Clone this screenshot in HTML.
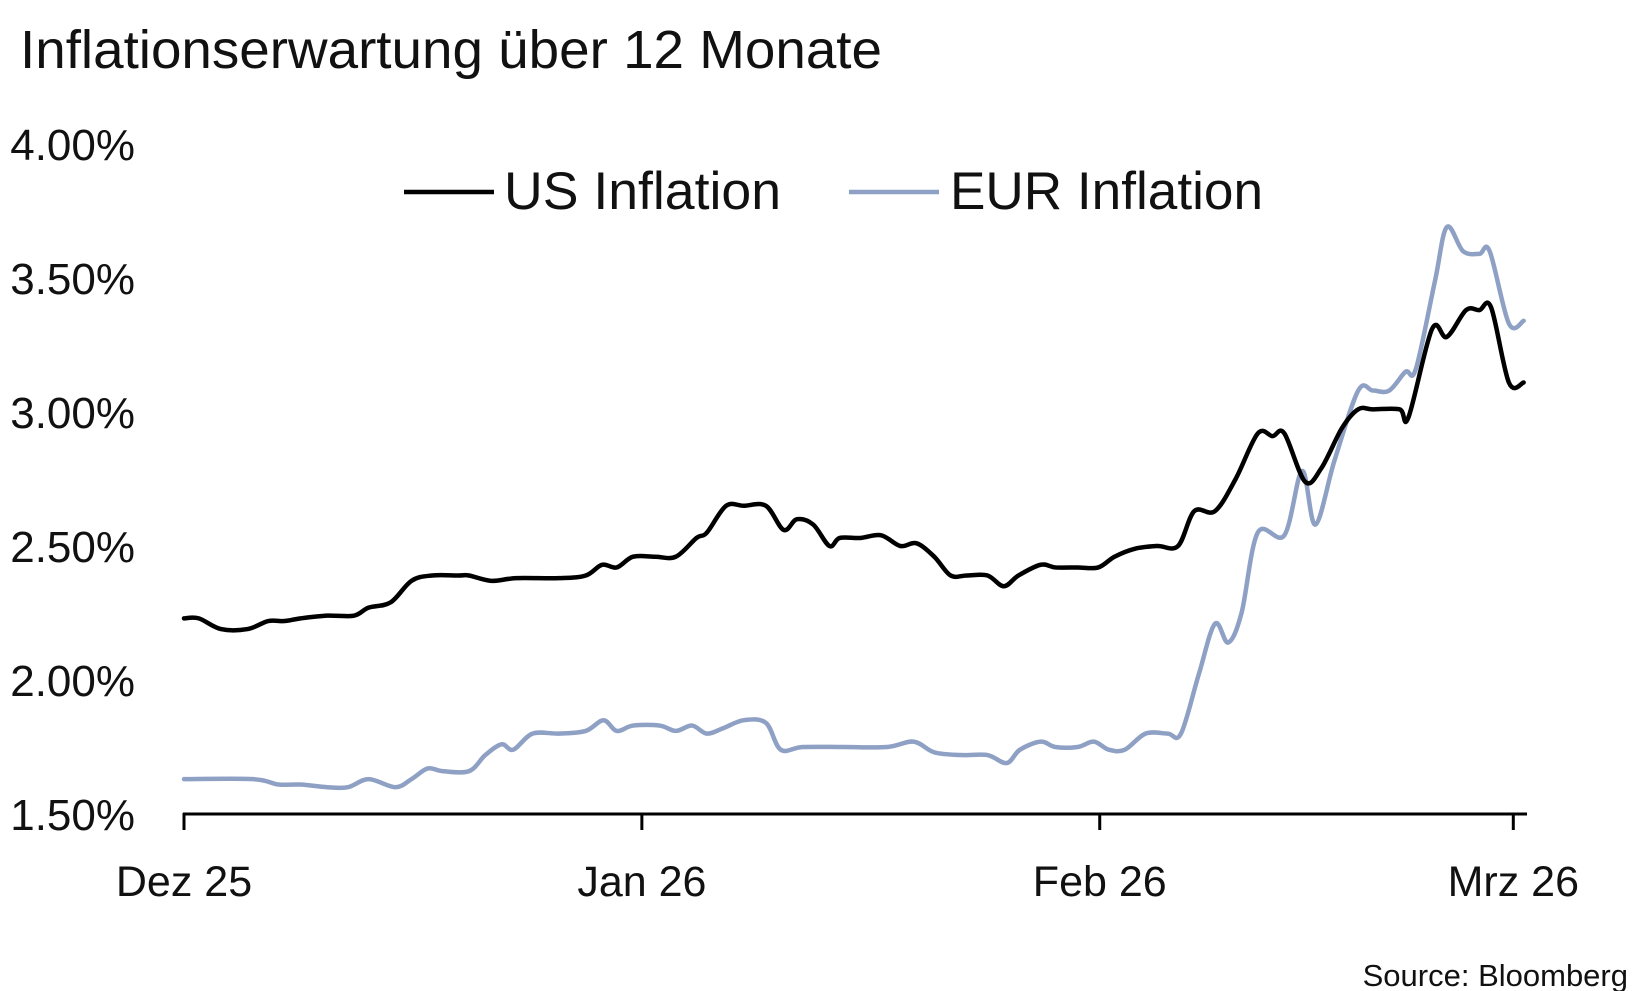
<!DOCTYPE html>
<html><head><meta charset="utf-8">
<style>
body{margin:0;background:#fff;}
svg{display:block;font-family:"Liberation Sans",sans-serif;}
</style></head>
<body>
<svg id="chart" width="1651" height="991" viewBox="0 0 1651 991">
<text x="20" y="68" font-size="54" fill="#111" textLength="862" lengthAdjust="spacingAndGlyphs">Inflationserwartung über 12 Monate</text>
<g id="yaxis"></g>
<g id="xaxis"></g>
<g id="series"></g>
<g>
<g>
<line x1="404" y1="192" x2="494" y2="192" stroke="#000" stroke-width="4.5"/>
<text x="504" y="209" font-size="53" fill="#111" textLength="277" lengthAdjust="spacingAndGlyphs">US Inflation</text></g>
<g>
<line x1="849" y1="192" x2="939" y2="192" stroke="#8fa0c5" stroke-width="4.5"/>
<text x="950" y="209" font-size="53" fill="#111" textLength="313" lengthAdjust="spacingAndGlyphs">EUR Inflation</text></g>
</g>
<text x="1628" y="986" font-size="31" text-anchor="end" fill="#111">Source: Bloomberg</text>
</svg>
<script>
const yTicks=[1.5,2.0,2.5,3.0,3.5,4.0];
const xTickDays=[0,31,62,90];
const xTickLabels=["Dez 25","Jan 26","Feb 26","Mrz 26"];
const usDays=[0,1,2.5,4.3,5.7,6.8,7.9,9.7,11.5,12.5,14,15.4,16.8,18.6,19.3,20.8,22.5,25.4,27.2,28.3,29.3,30.4,31.9,33.3,34.7,35.4,36.7,37.9,39.4,40.6,41.5,42.6,43.7,44.4,45.8,47.2,48.5,49.6,50.8,51.9,53,54.4,55.5,56.5,58,59,60.5,61.9,63,64.4,65.9,67.3,68.4,69.8,71.2,72.7,73.7,74.5,75.9,77,78.4,79.5,80.5,82.3,82.9,84.5,85.5,86.8,87.7,88.5,89.7,90.7];
const usValues=[2.23,2.23,2.19,2.19,2.22,2.22,2.23,2.24,2.24,2.27,2.29,2.37,2.39,2.39,2.39,2.37,2.38,2.38,2.39,2.43,2.42,2.46,2.46,2.46,2.53,2.55,2.65,2.65,2.65,2.56,2.60,2.58,2.50,2.53,2.53,2.54,2.50,2.51,2.46,2.39,2.39,2.39,2.35,2.39,2.43,2.42,2.42,2.42,2.46,2.49,2.50,2.50,2.63,2.63,2.75,2.92,2.91,2.92,2.74,2.79,2.94,3.01,3.01,3.01,2.98,3.31,3.28,3.38,3.38,3.39,3.11,3.11];
const eurDays=[0,4.7,6.4,7.9,9.7,11.1,12.5,14.3,15.4,16.5,17.5,19.3,20.4,21.5,22.3,23.6,25.4,27.2,28.4,29.3,30.4,32.2,33.3,34.4,35.4,36.5,37.9,39.4,40.4,41.9,44.7,47.6,49.4,50.8,52.6,54.4,55.7,56.6,58,59,60.5,61.6,62.6,63.7,65.1,66.6,67.5,68.7,69.8,70.7,71.6,72.7,74.5,75.7,76.6,77.9,79.5,80.5,81.6,82.7,83.4,84.7,85.5,86.6,87.7,88.4,89.7,90.7];
const eurValues=[1.63,1.63,1.61,1.61,1.60,1.60,1.63,1.60,1.63,1.67,1.66,1.66,1.72,1.76,1.74,1.80,1.80,1.81,1.85,1.81,1.83,1.83,1.81,1.83,1.80,1.82,1.85,1.84,1.74,1.75,1.75,1.75,1.77,1.73,1.72,1.72,1.69,1.74,1.77,1.75,1.75,1.77,1.74,1.74,1.80,1.80,1.80,2.02,2.21,2.14,2.25,2.55,2.54,2.78,2.58,2.82,3.08,3.08,3.08,3.15,3.16,3.49,3.69,3.60,3.59,3.60,3.33,3.34];

const NS="http://www.w3.org/2000/svg";
function xS(d){return 184+d*14.77;}
function yS(v){return 814-(v-1.5)*268;}
function mk(tag,attrs,parent){const e=document.createElementNS(NS,tag);for(const k in attrs)e.setAttribute(k,attrs[k]);parent.appendChild(e);return e;}
const yax=document.getElementById('yaxis');
yTicks.forEach(v=>{
  const t=mk('text',{x:135,y:yS(v)+16,'font-size':44,'text-anchor':'end',fill:'#111'},yax);
  t.textContent=v.toFixed(2)+'%';
  
  
});
const xax=document.getElementById('xaxis');
const base=mk('line',{x1:xS(0)-1,y1:814,x2:1527,y2:814,stroke:'#000','stroke-width':3},xax);


xTickDays.forEach((d,i)=>{
  const tk=mk('line',{x1:xS(d),y1:813,x2:xS(d),y2:830,stroke:'#000','stroke-width':3},xax);
  
  
  const t=mk('text',{x:xS(d),y:896,'font-size':43,'text-anchor':'middle',fill:'#111'},xax);
  t.textContent=xTickLabels[i];
  
  
});
function path(days,vals){
  const p=days.map((d,i)=>[xS(d),yS(vals[i])]);
  let s='M'+p[0][0]+','+p[0][1];
  for(let i=0;i<p.length-1;i++){
    const p0=p[i-1]||p[i],p1=p[i],p2=p[i+1],p3=p[i+2]||p2;
    const c1=[p1[0]+(p2[0]-p0[0])/6,p1[1]+(p2[1]-p0[1])/6];
    const c2=[p2[0]-(p3[0]-p1[0])/6,p2[1]-(p3[1]-p1[1])/6];
    s+=' C'+c1+' '+c2+' '+p2;
  }
  return s;
}
const sg=document.getElementById('series');
const eur=mk('path',{d:path(eurDays,eurValues),fill:'none',stroke:'#8fa0c5','stroke-width':4.5,'stroke-linejoin':'round','stroke-linecap':'round'},sg);


const us=mk('path',{d:path(usDays,usValues),fill:'none',stroke:'#000','stroke-width':4.5,'stroke-linejoin':'round','stroke-linecap':'round'},sg);


</script>
</body></html>
